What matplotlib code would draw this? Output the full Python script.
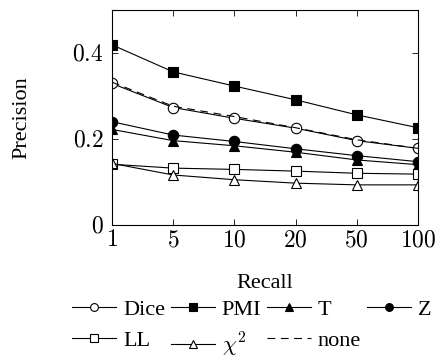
import matplotlib.pyplot as plt

plt.rcParams['font.family'] = ['Liberation Serif', 'DejaVu Serif']
plt.rcParams['mathtext.fontset'] = 'cm'

recall = ['1', '5', '10', '20', '50', '100']
dice = [0.329, 0.273, 0.248, 0.225, 0.196, 0.178]
pmi = [0.419, 0.356, 0.323, 0.291, 0.256, 0.226]
t_score = [0.222, 0.196, 0.184, 0.169, 0.151, 0.140]
z_score = [0.240, 0.209, 0.194, 0.177, 0.161, 0.147]
ll = [0.141, 0.132, 0.129, 0.125, 0.120, 0.118]
chi2 = [0.143, 0.116, 0.105, 0.097, 0.093, 0.093]
none = [0.332, 0.276, 0.252, 0.226, 0.198, 0.178]

fig = plt.figure(figsize=(4.48, 3.58), dpi=100)
ax = fig.add_axes([0.25, 0.372, 0.683, 0.6])
x = range(len(recall))

kw = dict(color='k', lw=0.8, ms=7.5, mec='k', mew=0.8)
h_dice, = ax.plot(x, dice, marker='o', mfc='white', label='Dice', **kw)
h_pmi, = ax.plot(x, pmi, marker='s', mfc='k', label='PMI', **kw)
h_t, = ax.plot(x, t_score, marker='^', mfc='k', label='T', **kw)
h_z, = ax.plot(x, z_score, marker='o', mfc='k', label='Z', **kw)
h_ll, = ax.plot(x, ll, marker='s', mfc='white', label='LL', **kw)
h_chi, = ax.plot(x, chi2, marker='^', mfc='white', label=r'$\chi^2$', **kw)
h_none, = ax.plot(x, none, color='k', lw=0.8, ls=(0, (7, 5)), label='none')

ax.set_xlim(0, 5)
ax.set_ylim(0, 0.5)
ax.set_xticks(list(x))
ax.set_xticklabels(['$%s$' % r for r in recall])
ax.set_yticks([0, 0.2, 0.4])
ax.set_yticklabels(['$0$', '$0.2$', '$0.4$'])
ax.tick_params(direction='in', top=True, right=True, labelsize=17, length=4, width=0.6)
ax.tick_params(axis='x', pad=4)
ax.tick_params(axis='y', pad=6)
for s in ax.spines.values():
    s.set_linewidth(0.8)
ax.set_xlabel('Recall', fontsize=16)
ax.set_ylabel('Precision', fontsize=16)
ax.xaxis.set_label_coords(0.5, -0.228)
ax.yaxis.set_label_coords(-0.265, 0.5)

handles = [h_dice, h_ll, h_pmi, h_chi, h_t, h_none, h_z]
fig.legend(handles=handles, labels=[h.get_label() for h in handles],
           loc='upper left', bbox_to_anchor=(72 / 448, 1 - 299 / 358),
           ncol=4, frameon=False, fontsize=16, handlelength=2.0,
           handletextpad=0.3, columnspacing=0.25, labelspacing=0.5,
           markerscale=0.75, borderpad=0, borderaxespad=0)

fig.savefig('out.png', dpi=100)
